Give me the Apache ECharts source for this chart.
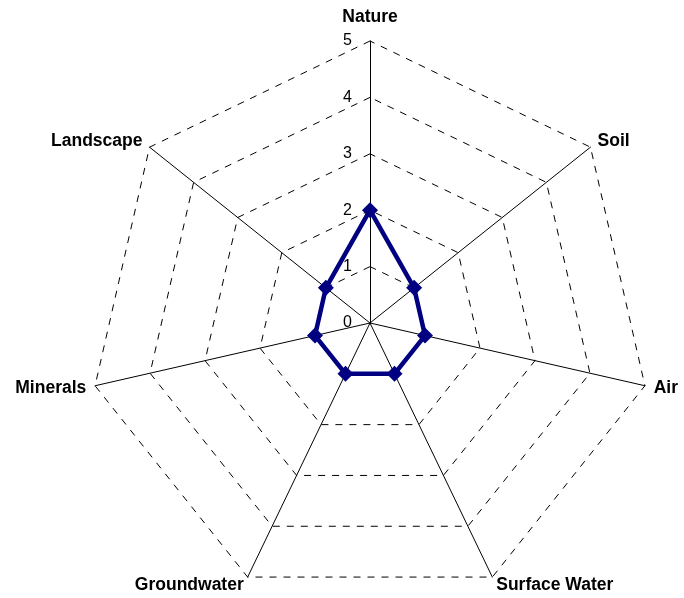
<!DOCTYPE html>
<html><head><meta charset="utf-8">
<script src="https://cdn.jsdelivr.net/npm/echarts@6/dist/echarts.min.js"></script>
<style>html,body{margin:0;padding:0;background:#fff}#c{width:684px;height:598px}</style>
</head><body><div id="c"></div>
<script>
const categories = ['Nature','Soil','Air','Surface Water','Groundwater','Minerals','Landscape'];
const values = [2,1,1,1,1,1,1];
const maxValue = 5;
const tickLabels = ['0','1','2','3','4','5'];

// ECharts radar runs counter-clockwise; reorder so the categories go clockwise
const order = [0].concat(categories.map((_, i) => i).slice(1).reverse());
const indCats = order.map(i => categories[i]);
const indVals = order.map(i => values[i]);

const chart = echarts.init(document.getElementById('c'));
const center = [370, 323];
const radius = 282;
const font = 'Liberation Sans, Arial, sans-serif';
chart.setOption({
  animation: false,
  backgroundColor: '#fff',
  radar: {
    center: center, radius: radius, startAngle: 90, splitNumber: 5, shape: 'polygon',
    indicator: indCats.map(n => ({name: n, min: 0, max: maxValue})),
    axisName: {
      color: '#000', fontFamily: font, fontWeight: 'bold', fontSize: 17.5,
      formatter: (n) => n === categories[0] ? '{top|' + n + '}' : n,
      rich: {top: {color: '#000', fontFamily: font, fontWeight: 'bold', fontSize: 17.5, padding: [0, 0, 6, 0]}}
    },
    nameGap: 9,
    axisLine: {lineStyle: {color: '#000', width: 1}},
    splitLine: {lineStyle: {color: '#000', width: 1, type: [7, 7]}},
    splitArea: {show: false},
    axisTick: {show: false},
    axisLabel: {show: false}
  },
  polar: {center: center, radius: radius},
  angleAxis: {show: false, startAngle: 90, min: 0, max: 360},
  radiusAxis: {
    min: 0, max: maxValue, interval: 1,
    axisLine: {show: false}, axisTick: {show: false}, splitLine: {show: false},
    axisLabel: {show: true, color: '#000', fontFamily: font, fontSize: 16,
      formatter: (v) => tickLabels[v], margin: 18}
  },
  series: [{
    type: 'radar',
    symbol: 'diamond', symbolSize: 16,
    lineStyle: {color: '#000080', width: 4.5},
    itemStyle: {color: '#000080'},
    data: [{value: indVals}]
  }]
});
</script></body></html>
